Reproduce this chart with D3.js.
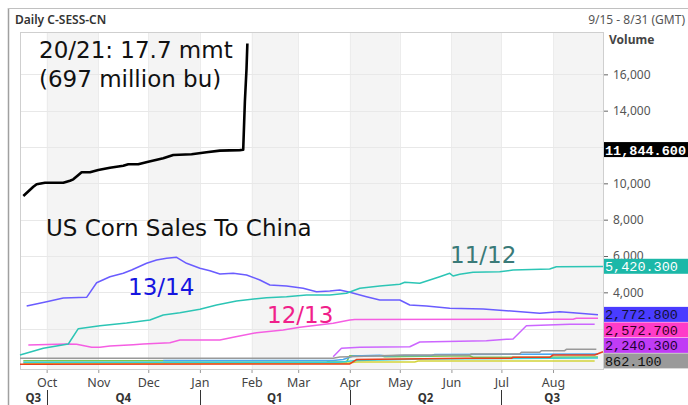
<!DOCTYPE html>
<html><head><meta charset="utf-8">
<script src="https://cdn.jsdelivr.net/npm/d3@7"></script>
<style>html,body{margin:0;padding:0;background:#fff;}svg{display:block;}</style>
</head><body>
<svg id="chart" width="688" height="405"></svg>
<script>
// ---------------- DATA ----------------
const title = "Daily C-SESS-CN";
const rangeText = "9/15 - 8/31 (GMT)";
const axisTitle = "Volume";
const domainStart = "2020-09-15";
const domainEnd = "2021-08-31";
const yTickValues = [2000, 4000, 6000, 8000, 10000, 12000, 14000, 16000];
const quarterNames = ["Q3", "Q4", "Q1", "Q2", "Q3"];
const quarterStarts = ["2020-10-01", "2021-01-01", "2021-04-01", "2021-07-01"];

// 20/21 season (thousand tonnes)
const s2021 = [["2020-09-17",9300],["2020-09-23",9810],["2020-09-25",9950],["2020-09-30",10030],
  ["2020-10-11",10030],["2020-10-15",10140],["2020-10-17",10220],["2020-10-22",10610],["2020-10-27",10610],
  ["2020-11-01",10730],["2020-11-08",10860],["2020-11-16",10970],["2020-11-19",11050],["2020-11-25",11050],
  ["2020-12-01",11190],["2020-12-10",11380],["2020-12-16",11560],["2020-12-27",11600],["2021-01-05",11710],
  ["2021-01-13",11800],["2021-01-25",11830],["2021-01-27",11844.6],["2021-01-28",14490],["2021-01-29",16330],
  ["2021-01-29T12:00",17700]];
// 13/14 season
const s1314 = [["2020-09-19",3247],["2020-10-01",3484],["2020-10-11",3688],["2020-10-25",3726],["2020-10-31",4530],
  ["2020-11-08",4860],["2020-11-16",5047],["2020-11-21",5229],["2020-11-30",5598],["2020-12-06",5779],
  ["2020-12-12",5873],["2020-12-18",5928],["2020-12-24",5598],["2021-01-01",5322],["2021-01-07",5190],
  ["2021-01-13",5009],["2021-01-21",5047],["2021-01-29",4954],["2021-02-06",4678],["2021-02-12",4403],
  ["2021-02-22",4348],["2021-03-04",4222],["2021-03-12",4034],["2021-03-20",4073],["2021-03-26",4128],
  ["2021-04-01",4001],["2021-04-11",3759],["2021-04-19",3578],["2021-05-01",3578],["2021-05-07",3302],
  ["2021-05-17",3247],["2021-05-31",3121],["2021-06-20",3082],["2021-07-04",2989],["2021-07-24",2846],
  ["2021-08-05",2934],["2021-08-13",2879],["2021-08-28",2772.8]];
// 11/12 season
const s1112 = [["2020-09-15",550],["2020-09-29",919],["2020-10-14",1156],["2020-10-20",1998],["2020-11-02",2157],
  ["2020-11-18",2312],["2020-12-02",2477],["2020-12-10",2752],["2020-12-20",2879],["2021-01-01",3066],
  ["2021-01-11",3302],["2021-01-23",3523],["2021-02-10",3704],["2021-02-22",3759],["2021-03-06",3853],
  ["2021-03-20",3853],["2021-03-30",3946],["2021-04-07",4222],["2021-04-19",4348],["2021-05-01",4442],
  ["2021-05-04",4552],["2021-05-13",4497],["2021-05-25",4860],["2021-05-31",5047],["2021-06-02",4898],
  ["2021-06-06",4992],["2021-06-14",5102],["2021-06-30",5135],["2021-07-08",5229],["2021-07-30",5284],
  ["2021-08-03",5410],["2021-08-31",5420.3]];
// 12/13 season
const s1213 = [["2020-09-20",1101],["2020-10-13",1156],["2020-10-19",1139],["2020-10-28",974],["2020-11-02",974],
  ["2020-11-08",1046],["2020-11-22",1117],["2020-11-28",1156],["2020-12-14",1227],["2020-12-20",1376],
  ["2021-01-13",1376],["2021-01-21",1525],["2021-02-04",1778],["2021-02-20",1926],["2021-03-02",2075],
  ["2021-03-22",2295],["2021-04-01",2477],["2021-04-04",2510],["2021-08-13",2520],["2021-08-15",2572.7],
  ["2021-08-28",2572.7]];
// purple season
const sPurple = [["2021-03-22",457],["2021-03-27",919],["2021-04-07",974],["2021-05-07",1007],["2021-05-13",1266],
  ["2021-06-22",1337],["2021-07-04",1414],["2021-07-08",1431],["2021-07-16",2157],["2021-08-11",2240],
  ["2021-08-26",2240.3]];
// gray season
const sGray = [["2020-09-15",369],["2021-03-22",369],["2021-03-26",440],["2021-05-04",550],["2021-06-12",550],
  ["2021-06-13",605],["2021-07-12",605],["2021-07-13",697],["2021-07-24",697],["2021-07-25",789],
  ["2021-08-08",789],["2021-08-09",862.1],["2021-08-27",862.1]];
// small seasons near zero
const sRed = [["2020-09-15",45],["2021-03-24",55],["2021-04-01",60],["2021-04-05",300],["2021-06-10",369],
  ["2021-07-07",369],["2021-07-08",424],["2021-07-30",424],["2021-08-01",550],["2021-08-26",550],["2021-08-31",732]];
const sYellow = [["2020-09-17",94],["2021-03-30",94],["2021-04-05",165],["2021-05-10",165],["2021-05-12",220],
  ["2021-08-26",220]];
const sCyan = [["2020-09-17",150],["2021-03-25",150],["2021-04-05",250],["2021-05-15",330],["2021-08-28",385]];
const sGreen = [["2020-09-17",237],["2021-03-18",237],["2021-03-20",165],["2021-03-30",165],["2021-04-01",512],
  ["2021-04-20",512],["2021-04-22",457],["2021-06-01",495],["2021-06-12",495],["2021-06-14",424],["2021-08-28",440]];
const sBlue = [["2020-12-10",250],["2021-03-22",250],["2021-03-28",300],["2021-04-03",495],["2021-04-19",530],
  ["2021-04-23",495],["2021-05-01",523],["2021-05-20",523],["2021-05-22",580],["2021-08-28",600]];

const latestValues = [11844.6, 5420.3, 2772.8, 2572.7, 2240.3, 862.1];
const latestColors = ["#000000", "#1cb8a8", "#4a3cff", "#ff3cc8", "#c03cf5", "#9a9a9a"];
const latestText = ["#ffffff", "#ffffff", "#111133", "#330022", "#220033", "#111111"];

// ---------------- CHART ----------------
const W = 688, H = 405;
const plot = {left: 20, right: 603, top: 32, bottom: 369};
const parse = s => new Date(s.length > 10 ? s : s + "T00:00");
const svg = d3.select("#chart");

const x = d3.scaleTime().domain([parse(domainStart), parse(domainEnd)]).range([plot.left, plot.right]);
const y = d3.scaleLinear().domain([-220, 18330]).range([plot.bottom, plot.top]);

// latest-value label positions (stacked top-down to avoid overlap)
const boxH = 15.5;
const labels = latestValues.map((v, i) => ({v, i, yy: y(v)})).sort((a, b) => a.yy - b.yy);
for (let k = 1; k < labels.length; k++) {
  labels[k].yy = Math.max(labels[k].yy, labels[k - 1].yy + boxH);
}

// outer frame
svg.append("line").attr("x1", 8.5).attr("x2", 8.5).attr("y1", 8).attr("y2", H).attr("stroke", "#a0a0a0").attr("stroke-width", 1.5);
svg.append("line").attr("x1", 8).attr("x2", W).attr("y1", 8.5).attr("y2", 8.5).attr("stroke", "#c0c0c0").attr("stroke-width", 1);

svg.append("text").attr("x", 15).attr("y", 24).text(title)
  .attr("font-family", "Noto Sans").attr("font-size", 12).attr("font-weight", 600).attr("fill", "#333");
svg.append("text").attr("x", 685).attr("y", 24).attr("text-anchor", "end").text(rangeText)
  .attr("font-family", "Noto Sans").attr("font-size", 12).attr("fill", "#555");

// month shading
const months = d3.timeMonth.range(d3.timeMonth.ceil(x.domain()[0]), x.domain()[1]);
const bounds = months.concat([x.domain()[1]]);
const g = svg.append("g");
months.forEach((m, i) => {
  if (i % 2 === 0) {
    g.append("rect").attr("x", x(m)).attr("y", plot.top)
      .attr("width", x(bounds[i + 1]) - x(m)).attr("height", plot.bottom - plot.top).attr("fill", "#f4f4f4");
  }
});
months.forEach(m => {
  g.append("line").attr("x1", Math.round(x(m)) + 0.5).attr("x2", Math.round(x(m)) + 0.5)
    .attr("y1", plot.top).attr("y2", plot.bottom).attr("stroke", "#ececec");
});
// horizontal grid
yTickValues.forEach(v => {
  g.append("line").attr("x1", plot.left).attr("x2", plot.right)
    .attr("y1", Math.round(y(v)) + 0.5).attr("y2", Math.round(y(v)) + 0.5).attr("stroke", "#e8e8e8");
});
g.append("rect").attr("x", plot.left + 0.5).attr("y", plot.top + 0.5)
  .attr("width", plot.right - plot.left).attr("height", plot.bottom - plot.top)
  .attr("fill", "none").attr("stroke", "#cfcfcf");

// x axis: month ticks
const xAxis = d3.axisBottom(x).tickValues(months).tickFormat(d3.timeFormat("%b")).tickSize(3).tickPadding(5);
const xa = svg.append("g").attr("transform", `translate(0,${plot.bottom + 1})`).call(xAxis);
xa.select(".domain").remove();
xa.selectAll(".tick line").attr("stroke", "#999");
xa.selectAll(".tick text").attr("font-family", "Noto Sans").attr("font-size", 12.5).attr("fill", "#444");

// quarters
const qb = [x.domain()[0]].concat(quarterStarts.map(parse)).concat([x.domain()[1]]);
quarterNames.forEach((q, i) => {
  svg.append("text").attr("x", (x(qb[i]) + x(qb[i + 1])) / 2).attr("y", 401.5).attr("text-anchor", "middle")
    .attr("font-family", "Noto Sans").attr("font-size", 11.5).attr("font-weight", 700).attr("fill", "#333").text(q);
});
quarterStarts.map(parse).forEach(d => {
  svg.append("line").attr("x1", Math.round(x(d)) + 0.5).attr("x2", Math.round(x(d)) + 0.5)
    .attr("y1", 390).attr("y2", 405).attr("stroke", "#333");
});

// y axis on right (labels hidden where a value box covers them)
const covered = v => labels.some(l => Math.abs(y(v) - l.yy) < boxH / 2 + 1);
const yAxis = d3.axisRight(y).tickValues(yTickValues)
  .tickFormat(v => covered(v) ? "" : d3.format(",")(v)).tickSize(4).tickPadding(5);
const ya = svg.append("g").attr("transform", `translate(${plot.right + 1},0)`).call(yAxis);
ya.select(".domain").remove();
ya.selectAll(".tick line").attr("stroke", "#666");
ya.selectAll(".tick text").attr("font-family", "Noto Sans").attr("font-size", 12).attr("fill", "#555");
svg.append("text").attr("x", 609).attr("y", 44).text(axisTitle)
  .attr("font-family", "Noto Sans").attr("font-size", 12).attr("font-weight", 700).attr("fill", "#444");

// lines
const line = d3.line().x(d => x(parse(d[0]))).y(d => y(d[1]));
const seriesList = [
  {data: sGreen, color: "#7cc850", w: 1.6},
  {data: sBlue, color: "#4aa8f0", w: 1.6},
  {data: sYellow, color: "#d4d43a", w: 1.6},
  {data: sCyan, color: "#38d0d8", w: 1.4},
  {data: sRed, color: "#e8401e", w: 1.6},
  {data: sGray, color: "#999999", w: 1.5},
  {data: sPurple, color: "#cc66ff", w: 1.5},
  {data: s1213, color: "#f55ee2", w: 1.5},
  {data: s1314, color: "#6a5cff", w: 1.5},
  {data: s1112, color: "#2cc5b5", w: 1.5},
  {data: s2021, color: "#000000", w: 2.6}
];
const lg = svg.append("g");
seriesList.forEach(s => {
  lg.append("path").datum(s.data).attr("d", line).attr("fill", "none")
    .attr("stroke", s.color).attr("stroke-width", s.w).attr("stroke-linejoin", "round");
});

// annotations
const ann = [
  {t: "20/21: 17.7 mmt", x: 39, y: 58, c: "#111"},
  {t: "(697 million bu)", x: 39, y: 87, c: "#111"},
  {t: "US Corn Sales To China", x: 46, y: 236, c: "#111"},
  {t: "13/14", x: 128, y: 295, c: "#1515e0"},
  {t: "12/13", x: 267, y: 323, c: "#f0208a"},
  {t: "11/12", x: 450, y: 263, c: "#3a7a78"}
];
ann.forEach(a => svg.append("text").attr("x", a.x).attr("y", a.y).text(a.t)
  .attr("font-family", "DejaVu Sans").attr("font-size", 23).attr("fill", a.c));

// latest value boxes
labels.forEach(l => {
  svg.append("rect").attr("x", plot.right + 1).attr("y", l.yy - boxH / 2).attr("width", W - plot.right)
    .attr("height", boxH - 0.5).attr("fill", latestColors[l.i]);
  svg.append("text").attr("x", plot.right + 2).attr("y", l.yy).attr("dy", "0.35em")
    .attr("font-family", "Liberation Mono").attr("font-size", 13.5)
    .attr("font-weight", l.i === 0 ? 700 : 400)
    .attr("fill", latestText[l.i]).text(d3.format(",.3f")(l.v));
});
</script>
</body></html>
